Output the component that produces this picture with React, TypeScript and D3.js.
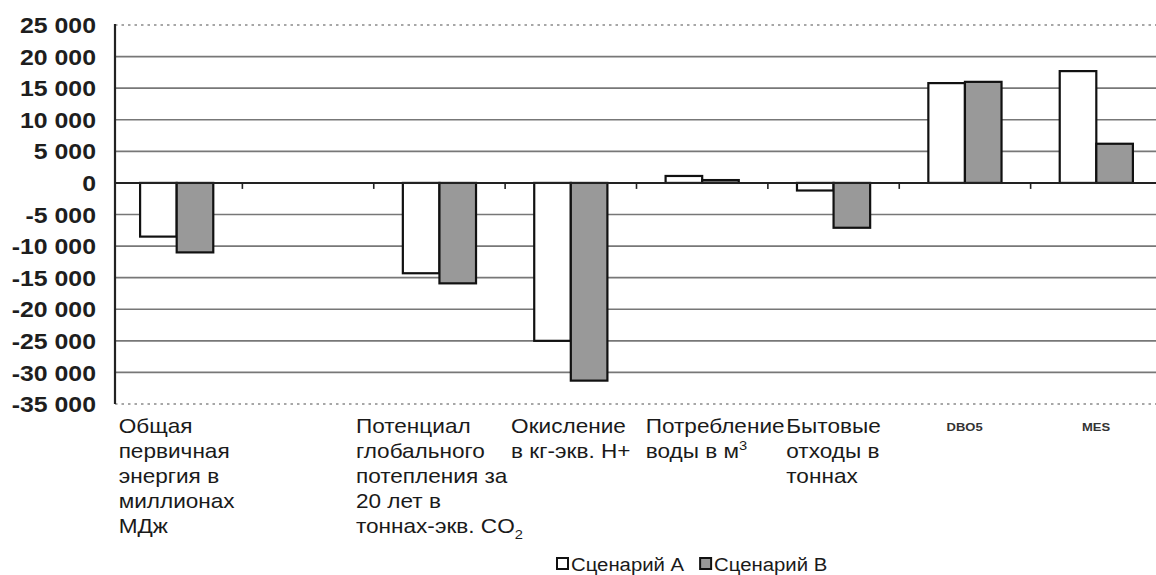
import React, { useEffect, useRef } from "react";
import * as d3 from "d3";

const categories = ["energy", "blank", "gwp", "acid", "water", "waste", "DBO5", "MES"];
const categoryLabels: string[][] = [
  ["Общая", "первичная", "энергия в", "миллионах", "МДж"],
  [],
  ["Потенциал", "глобального", "потепления за", "20 лет в", "тоннах-экв. CO|2"],
  ["Окисление", "в кг-экв. H+"],
  ["Потребление", "воды в м^3"],
  ["Бытовые", "отходы в", "тоннах"],
  ["DBO5"],
  ["MES"],
];
const smallLabels = ["DBO5", "MES"];
const scenarioA: (number | null)[] = [-8500, null, -14300, -25000, 1100, -1200, 15800, 17700];
const scenarioB: (number | null)[] = [-11000, null, -15900, -31300, 450, -7100, 16000, 6200];
const seriesNames = ["Сценарий А", "Сценарий В"];
const seriesFills = ["#ffffff", "#999999"];
const yTicks = [25000, 20000, 15000, 10000, 5000, 0, -5000, -10000, -15000, -20000, -25000, -30000, -35000];

const W = 1156;
const H = 575;
const SX = 1.13; // horizontal stretch of the lettering
// layout-only nudge for labels that the original shifted to avoid collisions
const labelNudge: Record<string, number> = { water: 13 };

export default function App() {
  const ref = useRef<SVGSVGElement>(null);

  useEffect(() => {
    document.body.style.margin = "0";
    const svg = d3.select(ref.current);
    svg.selectAll("*").remove();

    const left = 115, top = 25, bottom = 404;
    const bandStart = 111, bandEnd = 1162;
    const font = "'Liberation Sans', Arial, sans-serif";

    const y = d3.scaleLinear().domain([-35000, 25000]).range([bottom, top]);
    const x = d3.scaleBand<string>().domain(categories).range([bandStart, bandEnd])
      .paddingInner(0.443).paddingOuter(0.2215);
    const xs = d3.scaleBand<number>().domain([0, 1]).range([0, x.bandwidth()]);
    const step = x.step();

    const loc = d3.formatLocale({ decimal: ",", thousands: " ", grouping: [3], currency: ["", ""], minus: "-" });
    const fmt = loc.format(",");

    // grid lines
    const g = svg.append("g");
    yTicks.forEach((t) => {
      const isEdge = t === 25000 || t === -35000;
      if (t === 0) return;
      g.append("line")
        .attr("x1", left).attr("x2", W)
        .attr("y1", y(t)).attr("y2", y(t))
        .attr("stroke", isEdge ? "#8a8a8a" : "#777")
        .attr("stroke-width", isEdge ? 1.5 : 1.7)
        .attr("stroke-dasharray", isEdge ? "2.5,4" : null);
    });

    // y tick labels
    const yl = g.append("g").attr("transform", `translate(96,0) scale(${SX},1)`);
    yl.selectAll("text").data(yTicks).enter().append("text")
      .attr("x", 0).attr("y", (d) => y(d))
      .attr("dy", "0.37em")
      .attr("text-anchor", "end")
      .attr("font-family", font)
      .attr("font-size", 22)
      .attr("font-weight", "bold")
      .attr("fill", "#1e1e1e")
      .text((d) => fmt(d));

    // bars
    const series = [scenarioA, scenarioB];
    series.forEach((vals, si) => {
      svg.append("g").selectAll("rect").data(categories.map((c, i) => ({ c, v: vals[i] })).filter((d) => d.v !== null))
        .enter().append("rect")
        .attr("x", (d) => (x(d.c) as number) + (xs(si) as number))
        .attr("width", xs.bandwidth())
        .attr("y", (d) => y(Math.max(0, d.v as number)))
        .attr("height", (d) => Math.abs(y(d.v as number) - y(0)))
        .attr("fill", seriesFills[si])
        .attr("stroke", "#111")
        .attr("stroke-width", 2.2);
    });

    // zero axis
    svg.append("line").attr("x1", left).attr("x2", W).attr("y1", y(0)).attr("y2", y(0))
      .attr("stroke", "#222").attr("stroke-width", 2);
    categories.forEach((c, i) => {
      if (i === 0) return;
      const bx = (x(c) as number) - (step - x.bandwidth()) / 2;
      svg.append("line").attr("x1", bx).attr("x2", bx).attr("y1", y(0)).attr("y2", y(0) + 6)
        .attr("stroke", "#222").attr("stroke-width", 1.6);
    });
    // y axis
    svg.append("line").attr("x1", left).attr("x2", left).attr("y1", top - 1).attr("y2", bottom)
      .attr("stroke", "#222").attr("stroke-width", 2.2);

    // category labels
    categoryLabels.forEach((lines, i) => {
      if (!lines.length) return;
      const cx = (x(categories[i]) as number) + x.bandwidth() / 2 + (labelNudge[categories[i]] || 0);
      const small = smallLabels.includes(lines[0]);
      const tg = svg.append("g");
      const t = tg.append("text")
        .attr("font-family", font)
        .attr("font-size", small ? 11.5 : 20)
        .attr("font-weight", small ? "bold" : "normal")
        .attr("fill", small ? "#333" : "#1a1a1a");
      lines.forEach((line, li) => {
        const ts = t.append("tspan").attr("x", 0).attr("y", (small ? 431 : 433) + li * 25);
        if (line.includes("|")) {
          const [a, b] = line.split("|");
          ts.text(a);
          t.append("tspan").attr("dy", 6).attr("font-size", 13).text(b);
        } else if (line.includes("^")) {
          const [a, b] = line.split("^");
          ts.text(a);
          t.append("tspan").attr("dy", -8).attr("font-size", 13).text(b);
        } else {
          ts.text(line);
        }
      });
      const bb = (t.node() as SVGTextElement).getBBox();
      tg.attr("transform", `translate(${cx - (bb.width * SX) / 2},0) scale(${SX},1)`);
    });

    // legend
    const lg = svg.append("g");
    let lx = 557;
    seriesNames.forEach((name, si) => {
      lg.append("rect").attr("x", lx).attr("y", 558).attr("width", 11).attr("height", 11)
        .attr("fill", seriesFills[si]).attr("stroke", "#111").attr("stroke-width", 2);
      const tg = lg.append("g").attr("transform", `translate(${lx + 14},0) scale(${SX},1)`);
      const tt = tg.append("text").attr("x", 0).attr("y", 571)
        .attr("font-family", font).attr("font-size", 18).attr("fill", "#1a1a1a").text(name);
      lx += 14 + (tt.node() as SVGTextElement).getComputedTextLength() * SX + 16;
    });
  }, []);

  return <svg ref={ref} width={W} height={H} style={{ display: "block", background: "#fff" }} />;
}
